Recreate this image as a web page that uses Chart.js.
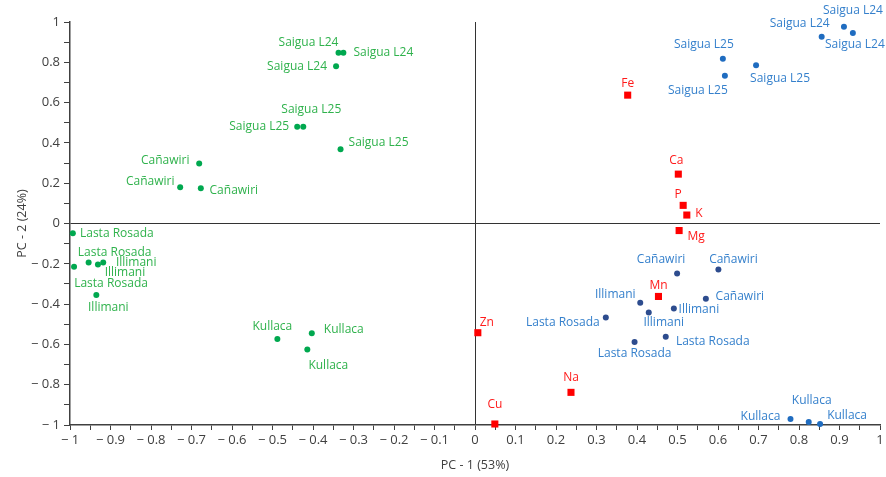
<!DOCTYPE html>
<html>
<head>
<meta charset="utf-8">
<script src="https://cdn.jsdelivr.net/npm/chart.js@4/dist/chart.umd.min.js"></script>
<style>
html,body{margin:0;padding:0;background:#fff;}
#wrap{width:886px;height:477px;}
</style>
</head>
<body>
<div id="wrap"><canvas id="c" width="886" height="477"></canvas></div>
<script>
// ---- data ----
const greenLabels = ["Saigua L24","Saigua L24","Saigua L24","Saigua L25","Saigua L25","Saigua L25",
  "Cañawiri","Cañawiri","Cañawiri","Lasta Rosada","Lasta Rosada","Lasta Rosada",
  "Illimani","Illimani","Illimani","Kullaca","Kullaca","Kullaca"];
const greenX = [-0.337,-0.325,-0.343,-0.439,-0.424,-0.332,-0.681,-0.728,-0.677,-0.993,-0.990,-0.954,-0.931,-0.918,-0.935,-0.488,-0.403,-0.414];
const greenY = [0.847,0.847,0.780,0.480,0.480,0.368,0.298,0.180,0.175,-0.048,-0.215,-0.193,-0.203,-0.193,-0.355,-0.573,-0.545,-0.625];

const redLabels = ["Fe","Ca","P","K","Mg","Mn","Zn","Na","Cu"];
const redX = [0.377,0.502,0.514,0.523,0.504,0.453,0.007,0.237,0.049];
const redY = [0.637,0.245,0.090,0.042,-0.035,-0.362,-0.542,-0.838,-0.995];

const blueLabels = ["Saigua L24","Saigua L24","Saigua L24","Saigua L25","Saigua L25","Saigua L25",
  "Cañawiri","Cañawiri","Cañawiri","Illimani","Illimani","Illimani",
  "Lasta Rosada","Lasta Rosada","Lasta Rosada","Kullaca","Kullaca","Kullaca"];
const blueX = [0.911,0.933,0.856,0.612,0.617,0.694,0.499,0.601,0.570,0.408,0.429,0.491,0.323,0.394,0.471,0.779,0.824,0.852];
const blueY = [0.977,0.945,0.927,0.818,0.733,0.785,-0.248,-0.228,-0.373,-0.393,-0.442,-0.422,-0.467,-0.588,-0.562,-0.970,-0.985,-0.995];

const xTitle = "PC - 1 (53%)";
const yTitle = "PC - 2 (24%)";

// ---- label placement (pixel nudges relative to each point) ----
const greenShift = [[-30,-10],[40,0],[-39,0],[-38,0],[8,-17],[38,-7],[-34,-3],[-30,-6],[33,2],
  [44,0],[37,17],[26,-10],[27,8],[33,0],[12,13],[-5,-12],[32,-4],[21,16]];
const redShift = [[0,-12],[-2,-14],[-5,-11],[12,-1],[17,6],[0,-11],[9,-10],[0,-15],[0,-19]];
const blueShift = [[9,-16],[2,11],[-22,-13],[-19,-14],[-27,15],[24,13],[-16,-14],[15,-10],[34,-2],
  [-25,-8],[15,10],[25,1],[-43,5],[0,12],[47,5],[-30,-2],[3,-21],[27,-8]];

function pts(xs, ys){ return xs.map((x,i)=>({x:x, y:ys[i]})); }

function fmt(k){ // k = value*100 (integer)
  if (k === 0) return "0";
  const a = (Math.abs(k)/100).toString();
  return k < 0 ? "\u2212 " + a : a;
}

const labelPlugin = {
  id: 'pointLabels',
  afterDatasetsDraw(chart){
    const ctx = chart.ctx;
    ctx.save();
    ctx.font = '12px "Open Sans", sans-serif';
    ctx.textAlign = 'center';
    ctx.textBaseline = 'middle';
    chart.data.datasets.forEach((ds, di)=>{
      const meta = chart.getDatasetMeta(di);
      meta.data.forEach((el, i)=>{
        const s = ds.shift[i];
        ctx.fillStyle = ds.labelColor;
        ctx.fillText(ds.names[i], el.x + s[0], el.y + s[1]);
      });
    });
    ctx.restore();
  }
};

const zeroGrid = (c) => (c.tick && Math.abs(c.tick.value) < 1e-9) ? '#333333' : 'rgba(0,0,0,0)';
const tickFont = {family: '"Open Sans", sans-serif', size: 13};

new Chart(document.getElementById('c'), {
  type: 'scatter',
  data: {
    datasets: [
      {data: pts(greenX, greenY), names: greenLabels, shift: greenShift, labelColor: '#2fb24c',
       backgroundColor: '#00a84f', pointRadius: 3, pointBorderWidth: 0, pointStyle: 'circle', clip: false},
      {data: pts(redX, redY), names: redLabels, shift: redShift, labelColor: '#ff1a1a',
       backgroundColor: '#ff0000', pointRadius: 5, pointBorderWidth: 0, pointStyle: 'rect', clip: false},
      {data: pts(blueX, blueY), names: blueLabels, shift: blueShift, labelColor: '#3580cc',
       backgroundColor: blueLabels.map(n => (n.startsWith('Saigua') || n.startsWith('Kullaca')) ? '#1f6cc0' : '#2d4c8e'),
       pointRadius: 3, pointBorderWidth: 0, pointStyle: 'circle', clip: false}
    ]
  },
  options: {
    responsive: false,
    animation: false,
    devicePixelRatio: 1,
    events: [],
    layout: {padding: {top: 22, right: 6, bottom: 0, left: 0}},
    plugins: {legend: {display: false}, tooltip: {enabled: false}},
    scales: {
      x: {
        type: 'linear', position: 'bottom', min: -1, max: 1,
        afterFit(s){ s.height = 52; },
        ticks: {stepSize: 0.05, maxTicksLimit: 100, autoSkip: false, maxRotation: 0, minRotation: 0,
          color: '#404040', font: tickFont, padding: 2,
          callback(v){ const k = Math.round(v*100); return (k % 10 === 0) ? fmt(k) : ''; }},
        grid: {drawOnChartArea: true, color: zeroGrid, tickColor: '#404040', tickLength: 5, lineWidth: 1},
        border: {display: true, color: '#404040', width: 1.5},
        title: {display: true, text: xTitle, color: '#404040', font: {family: '"Open Sans", sans-serif', size: 12.5}, padding: {top: 4, bottom: 4}}
      },
      y: {
        type: 'linear', position: 'left', min: -1, max: 1,
        afterFit(s){ s.width = 70; },
        ticks: {stepSize: 0.1, maxTicksLimit: 100, autoSkip: false,
          color: '#404040', font: tickFont, padding: 4,
          callback(v){ const k = Math.round(v*100); return (k % 20 === 0) ? fmt(k) : ''; }},
        grid: {drawOnChartArea: true, color: zeroGrid, tickColor: '#404040', tickLength: 6, lineWidth: 1},
        border: {display: true, color: '#404040', width: 1.5},
        title: {display: true, text: yTitle, color: '#404040', font: {family: '"Open Sans", sans-serif', size: 12.5}, padding: {top: 15, bottom: 4}}
      }
    }
  },
  plugins: [labelPlugin]
});
</script>
</body>
</html>
